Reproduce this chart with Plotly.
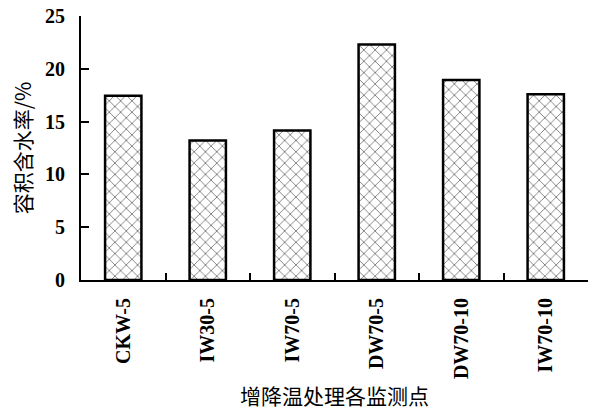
import plotly.graph_objects as go

categories = ["CKW-5", "IW30-5", "IW70-5", "DW70-5", "DW70-10", "IW70-10"]
values = [17.45, 13.2, 14.15, 22.3, 18.95, 17.6]
y_ticks = [0, 5, 10, 15, 20, 25]

FONT = "Liberation Serif, Times New Roman, serif"
CJK = "Noto Sans CJK SC"

fig = go.Figure(
    go.Bar(
        x=categories,
        y=values,
        width=0.43,
        marker=dict(
            color="white",
            line=dict(color="black", width=2.5),
            pattern=dict(shape="x", fgcolor="black", bgcolor="white", size=8, solidity=0.22),
        ),
    )
)

fig.update_layout(
    width=589,
    height=410,
    margin=dict(l=81, r=1, t=16, b=130, autoexpand=False),
    plot_bgcolor="white",
    paper_bgcolor="white",
    showlegend=False,
    font=dict(family=FONT, color="black"),
)

fig.update_xaxes(
    type="category",
    automargin=False,
    showline=True,
    linecolor="black",
    linewidth=2,
    ticks="inside",
    tickson="boundaries",
    ticklen=7,
    tickwidth=2,
    tickcolor="black",
    tickangle=-90,
    ticklabelstandoff=8,
    ticklabeloverflow="allow",
    tickfont=dict(family=FONT, size=20, color="black", weight="bold"),
    title=dict(text="增降温处理各监测点", font=dict(family=CJK, size=21, color="black"), standoff=12),
    showgrid=False,
)

fig.update_yaxes(
    range=[0, 25],
    automargin=False,
    tickvals=y_ticks,
    showline=True,
    linecolor="black",
    linewidth=2,
    ticks="inside",
    ticklen=8,
    tickwidth=2,
    tickcolor="black",
    ticklabelstandoff=10,
    ticklabeloverflow="allow",
    tickfont=dict(family=FONT, size=20, color="black", weight="bold"),
    title=dict(text="容积含水率/%", font=dict(family=CJK, size=21, color="black"), standoff=8),
    showgrid=False,
    zeroline=False,
)

fig.write_html(
    "out.html",
    config={"displayModeBar": False},
    post_script="document.body.style.margin='0';",
)
